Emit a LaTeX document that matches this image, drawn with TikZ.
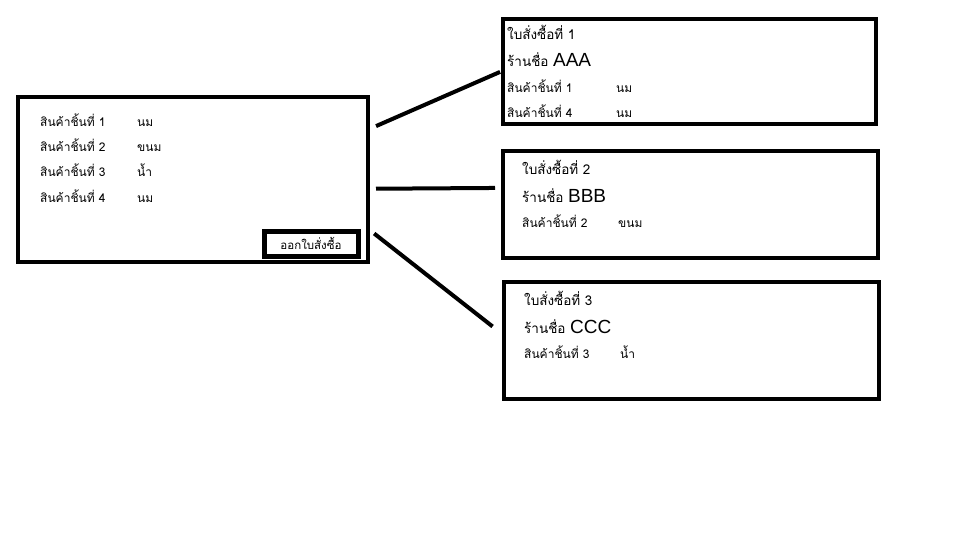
\documentclass[tikz,border=0pt]{standalone}
\usepackage{fontspec}
\newfontfamily\thaifont[Script=Thai]{Loma}
\newfontfamily\latinfont{Liberation Sans}
\newcommand{\bigname}[1]{{\latinfont\fontsize{19}{21}\selectfont #1}}
\usetikzlibrary{positioning}

\begin{document}
\begin{tikzpicture}
            [
                x=1pt, y=-1pt,
                framebox/.style={rectangle, draw=black, fill=white, line width=4pt, inner sep=0pt},
                buttonbox/.style={rectangle, draw=black, fill=white, line width=5pt, inner sep=0pt, font=\thaifont\fontsize{11.5}{13}\selectfont},
                itemtext/.style={anchor=base west, inner sep=0pt, font=\thaifont\fontsize{12}{14}\selectfont},
                shoptext/.style={anchor=base west, inner sep=0pt, font=\thaifont\fontsize{13.5}{15}\selectfont},
                link/.style={line width=4pt},
            ]

            \useasboundingbox[fill=white] (0,0) rectangle (960,540);

            %% MAIN BOX
            \node[framebox, minimum width=350pt, minimum height=165pt] (main) at(193,179.5) {};
            \node[itemtext] (item1) at(40,126.5) {สินค้าชิ้นที่ 1};
            \node[itemtext] (item2) at(40,151.5) {สินค้าชิ้นที่ 2};
            \node[itemtext] (item3) at(40,176.5) {สินค้าชิ้นที่ 3};
            \node[itemtext] (item4) at(40,202.5) {สินค้าชิ้นที่ 4};
            \node[itemtext] (name1) at(137,126.5) {นม};
            \node[itemtext] (name2) at(137,151.5) {ขนม};
            \node[itemtext] (name3) at(137,176.5) {น้ำ};
            \node[itemtext] (name4) at(137,202.5) {นม};
            \node[buttonbox, minimum width=94pt, minimum height=25pt] (order) at(311,243.5) {ออกใบสั่งซื้อ};

            %% PURCHASE ORDER 1
            \node[framebox, minimum width=373pt, minimum height=105pt] (po1) at(689.5,71.5) {};
            \node[shoptext] (potitle1) at(507,39.5) {ใบสั่งซื้อที่ 1};
            \node[shoptext] (shop1) at(507,66.5) {ร้านชื่อ \bigname{AAA}};
            \node[itemtext] (poitem11) at(507,92.5) {สินค้าชิ้นที่ 1};
            \node[itemtext] (poitem14) at(507,117.5) {สินค้าชิ้นที่ 4};
            \node[itemtext] (poname11) at(616,92.5) {นม};
            \node[itemtext] (poname14) at(616,117.5) {นม};

            %% PURCHASE ORDER 2
            \node[framebox, minimum width=375pt, minimum height=107pt] (po2) at(690.5,204.5) {};
            \node[shoptext] (potitle2) at(522,174.5) {ใบสั่งซื้อที่ 2};
            \node[shoptext] (shop2) at(522,202.5) {ร้านชื่อ \bigname{BBB}};
            \node[itemtext] (poitem22) at(522,227.5) {สินค้าชิ้นที่ 2};
            \node[itemtext] (poname22) at(618,227.5) {ขนม};

            %% PURCHASE ORDER 3
            \node[framebox, minimum width=375pt, minimum height=117pt] (po3) at(691.5,340.5) {};
            \node[shoptext] (potitle3) at(524,305.5) {ใบสั่งซื้อที่ 3};
            \node[shoptext] (shop3) at(524,333.5) {ร้านชื่อ \bigname{CCC}};
            \node[itemtext] (poitem33) at(524,358.5) {สินค้าชิ้นที่ 3};
            \node[itemtext] (poname33) at(620,358.5) {น้ำ};

            %% LINKS
            \draw[link, shorten <=6.6pt, shorten >=1pt] (main.16) -- (po1.west);
            \draw[link, shorten <=6pt, shorten >=6pt] (main.-3.4) -- (po2.175.6);
            \draw[link, shorten <=5.3pt, shorten >=12pt] (main.-16.5) -- (po3.178.6);

        \end{tikzpicture}
\end{document}
